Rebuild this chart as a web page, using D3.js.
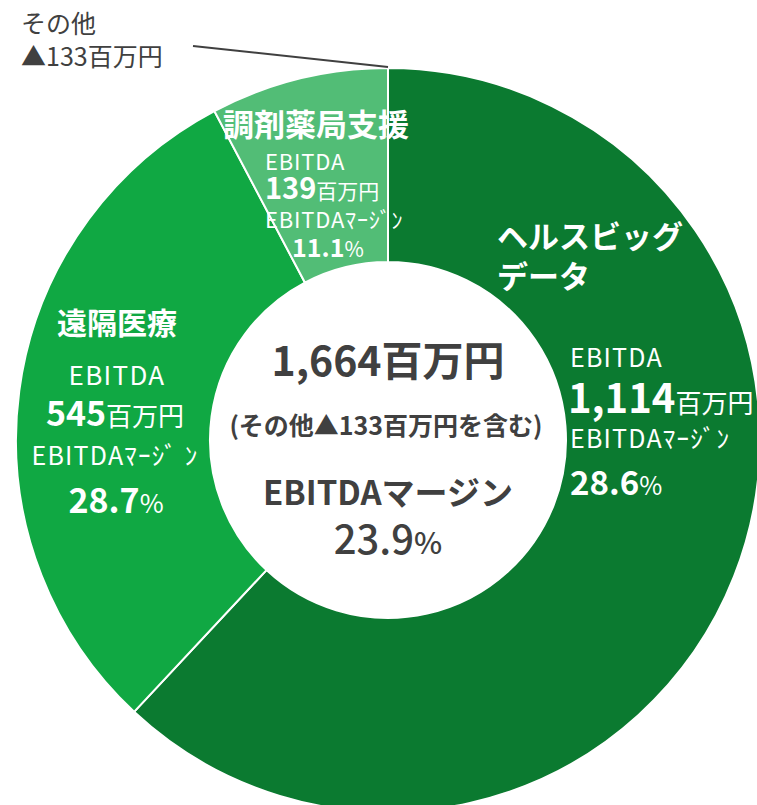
<!DOCTYPE html>
<html>
<head>
<meta charset="utf-8">
<script src="https://cdn.jsdelivr.net/npm/d3@7"></script>
<style>
  body { margin: 0; background: #fff; }
  svg { display: block; font-family: "Noto Sans CJK JP", "Noto Sans", sans-serif; }
</style>
</head>
<body>
<div id="chart"></div>
<script>
// data
var segments = ["ヘルスビッグデータ", "遠隔医療", "調剤薬局支援", "その他"];
var ebitda = [1114, 545, 139, -133];
var margins = [28.6, 28.7, 11.1, null];
var totalEbitda = 1664;
var totalMargin = 23.9;
var colors = ["#0b7a30", "#10a843", "#52bd76", "#52bd76"];

var width = 757;
var height = 805;
var cx = 388, cy = 440;
var outerR = 372, innerR = 178;

var fmt = d3.format(",");
var fmtPct = d3.format(".1f");
var white = "#ffffff";
var dark = "#404040";

var svg = d3.select("#chart").append("svg")
  .attr("width", width)
  .attr("height", height);

var data = segments.map(function (s, i) {
  return { name: s, value: ebitda[i], margin: margins[i], color: colors[i] };
});

var pie = d3.pie()
  .sort(null)
  .value(function (d) { return Math.max(0, d.value); });

var arc = d3.arc().innerRadius(innerR).outerRadius(outerR);

var g = svg.append("g").attr("transform", "translate(" + cx + "," + cy + ")");

var arcs = pie(data);

g.selectAll("path")
  .data(arcs)
  .join("path")
  .attr("d", arc)
  .attr("fill", function (d) { return d.data.color; })
  .attr("stroke", "#ffffff")
  .attr("stroke-width", 2);

// leader line for the negative segment
var other = arcs[3];
var lx = Math.sin(other.startAngle) * outerR;
var ly = -Math.cos(other.startAngle) * outerR;
g.append("line")
  .attr("x1", lx).attr("y1", ly - 1)
  .attr("x2", 193 - cx).attr("y2", 46 - cy)
  .attr("stroke", dark)
  .attr("stroke-width", 2);

// helper for mixed size text, p = [text, size, weight, letterSpacing]
function label(x, y, anchor, color, parts) {
  var t = svg.append("text")
    .attr("x", x).attr("y", y)
    .attr("text-anchor", anchor)
    .attr("fill", color);
  parts.forEach(function (p) {
    t.append("tspan")
      .attr("font-size", p[1])
      .attr("font-weight", p[2] || "normal")
      .attr("letter-spacing", p[3] || 0)
      .text(p[0]);
  });
  return t;
}

var hb = data[0], en = data[1], ch = data[2], ot = data[3];

// その他
label(21, 33, "start", dark, [["その他", 25]]);
label(21, 66, "start", dark, [["▲" + fmt(-ot.value) + "百万円", 25]]);

// 調剤薬局支援
label(316, 136, "middle", white, [[ch.name, 31, "bold"]]);
label(265, 170, "start", white, [["EBITDA", 22, "normal", 0.8]]);
label(265, 199, "start", white, [[fmt(ch.value), 29, "bold"], ["百万円", 21]]);
label(265, 228, "start", white, [["EBITDAﾏｰｼﾞﾝ", 22, "normal", 0.8]]);
label(292, 257, "start", white, [[fmtPct(ch.margin), 25, "bold"], ["%", 21]]);

// ヘルスビッグデータ
label(497, 248, "start", white, [["ヘルスビッグ", 31, "bold"]]);
label(497, 288, "start", white, [["データ", 31, "bold"]]);
label(570, 367, "start", white, [["EBITDA", 25, "normal", 1.2]]);
label(568, 413, "start", white, [[fmt(hb.value), 40, "bold"], ["百万円", 26]]);
label(570, 448, "start", white, [["EBITDAﾏｰｼﾞﾝ", 25, "normal", 1.2]]);
label(570, 495, "start", white, [[fmtPct(hb.margin), 33, "bold"], ["%", 25]]);

// 遠隔医療
label(117, 334, "middle", white, [[en.name, 30, "bold"]]);
label(117, 385, "middle", white, [["EBITDA", 26, "normal", 1.3]]);
label(115, 426, "middle", white, [[fmt(en.value), 34, "bold"], ["百万円", 26]]);
label(115, 465, "middle", white, [["EBITDAﾏｰｼﾞ ﾝ", 25, "normal", 1.2]]);
label(116, 513, "middle", white, [[fmtPct(en.margin), 34, "bold"], ["%", 26]]);

// center
label(388, 376, "middle", dark, [[fmt(totalEbitda) + "百万円", 41, "bold"]]);
label(386, 435, "middle", dark, [["(その他▲" + fmt(-ot.value) + "百万円を含む)", 25, "bold"]]);
label(388, 505, "middle", dark, [["EBITDAマージン", 33, "bold"]]);
label(388, 554, "middle", dark, [[fmtPct(totalMargin), 40, "500"], ["%", 30, "500"]]);
</script>
</body>
</html>
